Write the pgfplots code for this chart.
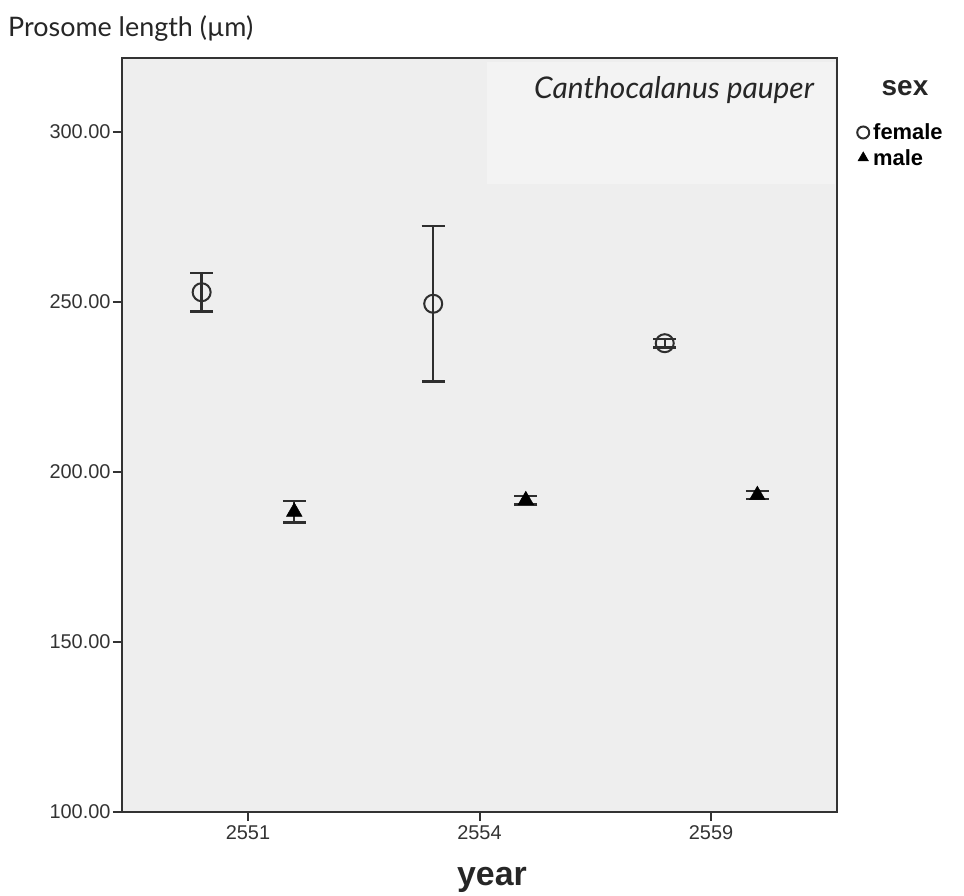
\documentclass[border=0pt]{standalone}
\usepackage{pgfplots}
\pgfplotsset{compat=1.18}
\usepackage{fontspec}
\setmainfont{Liberation Sans}
\newfontfamily\latofont{Lato}
\definecolor{axgray}{HTML}{333333}
\definecolor{plotbg}{HTML}{EEEEEE}
\definecolor{boxbg}{HTML}{F3F3F3}
\definecolor{barcol}{HTML}{2E2E2E}
\begin{document}
\begin{tikzpicture}
\useasboundingbox (-122bp,-84bp) rectangle (842bp,812bp);
\begin{axis}[
  at={(0bp,0bp)}, anchor=south west,
  scale only axis, width=715bp, height=754bp,
  xmin=-0.544, xmax=2.544, ymin=100, ymax=321.8,
  axis background/.style={fill=plotbg},
  axis line style={draw=axgray, line width=2.2bp},
  xtick={0,1,2}, xticklabels={2551,2554,2559},
  ytick={100,150,200,250,300},
  yticklabels={100.00,150.00,200.00,250.00,300.00},
  xtick pos=left, ytick pos=left,
  tick align=outside, major tick length=9bp,
  tick style={draw=axgray, line width=2bp},
  ticklabel style={font=\fontsize{20}{22}\selectfont, text=black!80},
  yticklabel style={xshift=1bp},
  xticklabel style={yshift=-1bp},
  clip=false,
  legend style={at={(rel axis cs:1.028,0.913)}, anchor=north west, draw=none, fill=none,
    font=\bfseries\fontsize{22}{24}\selectfont, row sep=8bp, inner sep=0pt,
    legend cell align=left, nodes={inner xsep=4bp, inner ysep=0bp}},
  legend image code/.code={\draw[#1, mark size=6bp] plot coordinates {(0bp,0bp)};},
]
\addplot[only marks, mark=o, mark size=9bp, mark options={draw=barcol, line width=2bp},
  error bars/.cd, y dir=both, y explicit,
  error bar style={draw=barcol, line width=2.4bp},
  error mark options={draw=barcol, line width=2.4bp, mark size=11.5bp, rotate=90}]
  coordinates {
  (-0.2,252.9) +- (0,5.7)
  (0.8,249.5) +- (0,22.9)
  (1.8,237.9) +- (0,1.3)
  };
\addlegendentry{female}
\addplot[only marks, mark=triangle*, mark size=9bp, mark options={draw=black, fill=black, line width=0.5bp},
  error bars/.cd, y dir=both, y explicit,
  error bar style={draw=barcol, line width=2.4bp},
  error mark options={draw=barcol, line width=2.4bp, mark size=11.5bp, rotate=90}]
  coordinates {
  (0.2,188.3) +- (0,3.1)
  (1.2,191.7) +- (0,1.3)
  (2.2,193.2) +- (0,1.2)
  };
\addlegendentry{male}
\end{axis}
\fill[boxbg] (365bp,628bp) rectangle (713bp,750bp);
\node[font=\latofont\itshape\fontsize{30}{32}\selectfont, text=black!85] at (552bp,722bp) {Canthocalanus pauper};
\node[anchor=base west, inner sep=0pt, font=\latofont\fontsize{27}{29}\selectfont, text=black!85] at (-114bp,775bp) {Prosome length (µm)};
\node[font=\bfseries\fontsize{28}{30}\selectfont, text=black!85] at (783bp,724bp) {sex};
\node[font=\bfseries\fontsize{34}{36}\selectfont, text=black!85] at (370bp,-68bp) {year};
\end{tikzpicture}
\end{document}
